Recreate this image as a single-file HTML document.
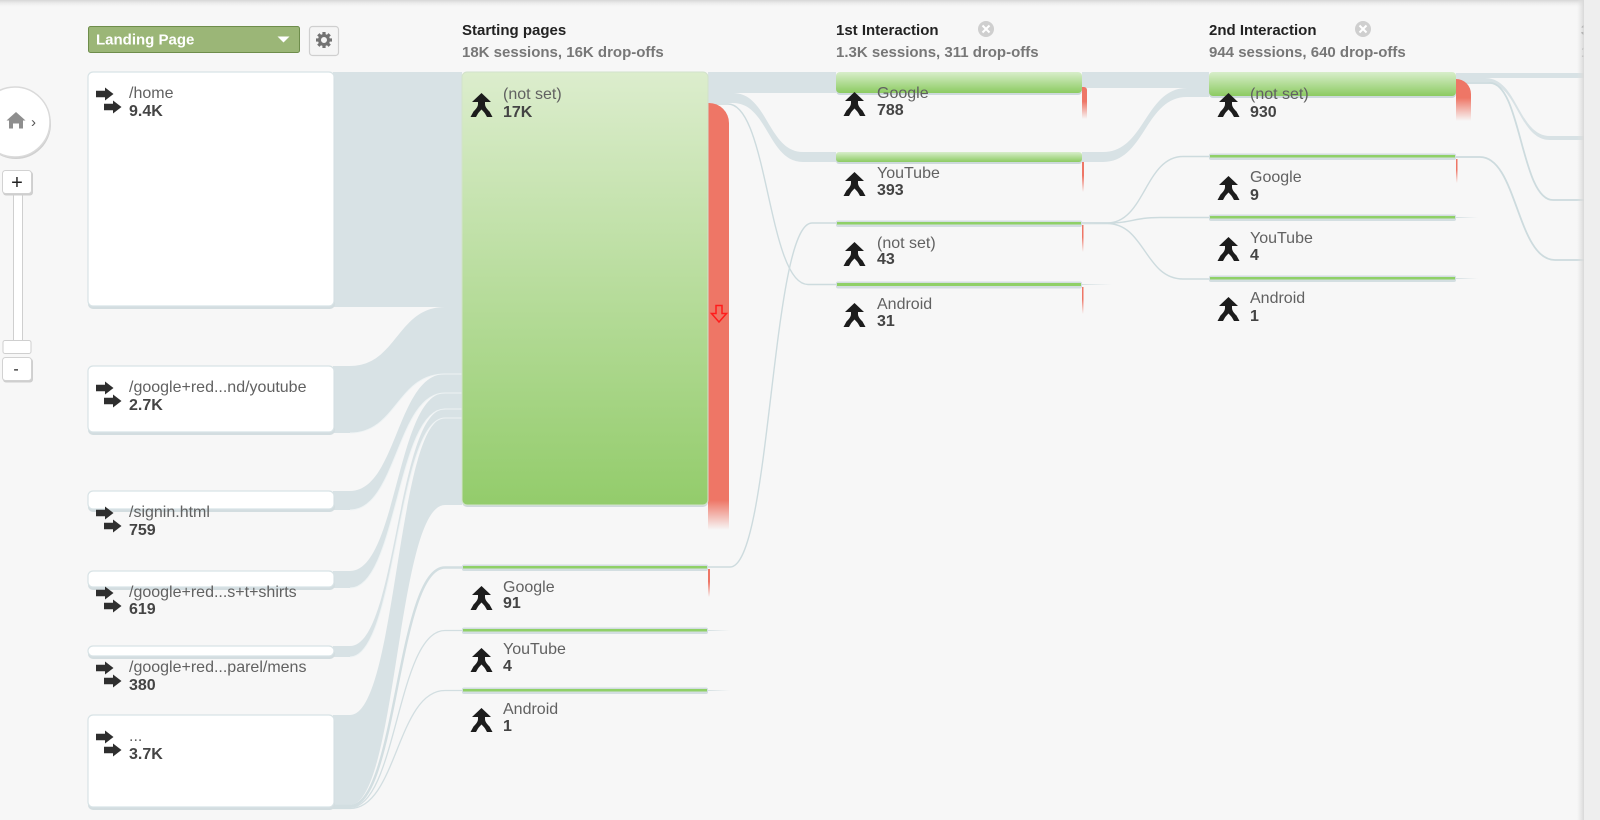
<!DOCTYPE html>
<html><head><meta charset="utf-8"><style>
html,body{margin:0;padding:0;background:#f7f7f7;overflow:hidden;width:1600px;height:820px}
svg{display:block}
.nm{font-size:16px;fill:#616161}
.vl{font-size:16px;font-weight:bold;fill:#444}
.ht{font-size:15px;font-weight:bold;fill:#222}
.hs{font-size:15px;font-weight:bold;fill:#777}
</style></head><body>
<svg width="1600" height="820" viewBox="0 0 1600 820" xmlns="http://www.w3.org/2000/svg" font-family="'Liberation Sans', Arial, sans-serif">
<defs>
 <linearGradient id="gbig" x1="0" y1="0" x2="0" y2="1"><stop offset="0" stop-color="#dcedcd"/><stop offset="1" stop-color="#93cc6b"/></linearGradient>
 <linearGradient id="gbar" x1="0" y1="0" x2="0" y2="1"><stop offset="0" stop-color="#d8eecb"/><stop offset="1" stop-color="#8ccb62"/></linearGradient>
 <linearGradient id="redbig" x1="0" y1="0" x2="0" y2="1"><stop offset="0.93" stop-color="#ee7666"/><stop offset="1" stop-color="#ee7666" stop-opacity="0"/></linearGradient>
 <linearGradient id="rf" x1="0" y1="0" x2="0" y2="1"><stop offset="0.45" stop-color="#ee7666"/><stop offset="1" stop-color="#ee7666" stop-opacity="0"/></linearGradient>
 <linearGradient id="topsh" x1="0" y1="0" x2="0" y2="1"><stop offset="0" stop-color="#d6d6d6"/><stop offset="1" stop-color="#f7f7f7" stop-opacity="0"/></linearGradient>
 <linearGradient id="rsh" x1="0" y1="0" x2="1" y2="0"><stop offset="0" stop-color="#e2e2e2" stop-opacity="0"/><stop offset="1" stop-color="#d8d8d8"/></linearGradient>
 <linearGradient id="tl" x1="0" y1="0" x2="1" y2="0"><stop offset="0" stop-color="#d4dfe2"/><stop offset="1" stop-color="#d4dfe2" stop-opacity="0"/></linearGradient>
 <g id="arr" fill="#2e2e2e">
  <rect x="0" y="18.75" width="10" height="6.5"/><path d="M9 15.5 L17.5 22 L9 28.5 Z"/>
  <rect x="8" y="31.75" width="10" height="6.5"/><path d="M17 28.5 L25.5 35 L17 41.5 Z"/>
 </g>
 <path id="mrg" fill="#1c1c1c" d="M10.5 0 L20 9 L14 9 L14 11 C14 14 16.5 16.5 18.5 18.5 L21.5 24 L16 24 L14 20.5 C13 19 11.5 17.5 10.5 16.5 C9.5 17.5 8 19 7 20.5 L5 24 L-0.5 24 L2.5 18.5 C4.5 16.5 7 14 7 11 L7 9 L1 9 Z"/>
</defs>

<rect x="0" y="0" width="1600" height="820" fill="#f7f7f7"/>

<!-- ===== flows: landing -> start ===== -->
<g fill="#d8e2e5">
 <rect x="333" y="72" width="129" height="235"/>
 <path d="M333 366 L350 366 C397 366 397 307 445 307 L462 307 L462 374 L445 374 C397 374 397 433 350 433 L333 433 Z"/>
 <path d="M333 491 L350 491 C397 491 397 374 445 374 L462 374 L462 393 L445 393 C397 393 397 510 350 510 L333 510 Z"/>
 <path d="M333 571 L350 571 C397 571 397 393 445 393 L462 393 L462 409 L445 409 C397 409 397 588 350 588 L333 588 Z"/>
 <path d="M333 646 L350 646 C397 646 397 409 445 409 L462 409 L462 418 L445 418 C397 418 397 657 350 657 L333 657 Z"/>
 <path d="M333 715 L350 715 C397 715 397 418 445 418 L462 418 L462 505 L445 505 C397 505 397 805 350 805 L333 805 Z"/>
</g>
<g fill="none" stroke="#eef3f4" stroke-width="1">
 <path d="M350 433 C397 433 397 374 445 374 L462 374"/>
 <path d="M350 510 C397 510 397 393 445 393 L462 393"/>
 <path d="M350 588 C397 588 397 409 445 409 L462 409"/>
 <path d="M350 657 C397 657 397 418 445 418 L462 418"/>
</g>
<g fill="none" stroke="#d2dee1">
 <path d="M333 806 L350 806 C397 806 397 567.5 445 567.5 L462 567.5" stroke-width="2.5"/>
 <path d="M333 807.5 L350 807.5 C397 807.5 397 630.5 445 630.5 L462 630.5" stroke-width="1.3"/>
 <path d="M333 808.5 L350 808.5 C397 808.5 397 690.5 445 690.5 L462 690.5" stroke-width="1.3"/>
</g>

<!-- ===== flows: start -> 1st ===== -->
<g fill="#d8e2e5">
 <rect x="708" y="72" width="128" height="21"/>
 <path d="M708 93 L733 93 C768 93 768 152 803 152 L836 152 L836 162 L803 162 C768 162 768 103 733 103 L708 103 Z"/>
</g>
<g fill="none" stroke="#cddbde" stroke-width="1.4">
 <path d="M708 104 L728 104 C768 104 768 284.5 808 284.5 L836 284.5"/>
 <path d="M708 567 L730 567 C771 567 771 223 812 223 L836 223"/>
</g>

<!-- ===== flows: 1st -> 2nd ===== -->
<g fill="#d8e2e5">
 <rect x="1082" y="72" width="127" height="16"/>
 <path d="M1082 152 L1103 152 C1145 152 1145 88 1187 88 L1209 88 L1209 97 L1187 97 C1145 97 1145 162 1103 162 L1082 162 Z"/>
</g>
<g fill="none" stroke="#cddbde" stroke-width="1.4">
 <path d="M1082 223 L1107 223 C1145 223 1145 156.5 1183 156.5 L1209 156.5"/>
 <path d="M1082 223 L1107 223 C1133 223 1133 217.5 1160 217.5 L1209 217.5"/>
 <path d="M1082 223.5 L1107 223.5 C1145 223.5 1145 279 1183 279 L1209 279"/>
</g>

<!-- ===== flows: 2nd -> 3rd ===== -->
<g fill="#d8e2e5">
 <rect x="1456" y="73" width="128" height="5"/>
 <path d="M1456 78 L1485 78 C1518 78 1518 136 1550 136 L1584 136 L1584 140 L1550 140 C1518 140 1518 82 1485 82 L1456 82 Z"/>
</g>
<g fill="none" stroke="#cddbde" stroke-width="1.8">
 <path d="M1456 83 L1490 83 C1521 83 1521 200 1553 200 L1584 200"/>
 <path d="M1456 157 L1480 157 C1517 157 1517 260 1555 260 L1584 260"/>
</g>

<!-- ===== left landing boxes ===== -->
<g>
 <rect x="88" y="74" width="247" height="235" rx="5" fill="#d3dde0"/>
 <rect x="88" y="72" width="246" height="234" rx="5" fill="#fff" stroke="#d8e3e6" stroke-width="1.2"/>
 <rect x="88" y="368" width="247" height="67" rx="5" fill="#d3dde0"/>
 <rect x="88" y="366" width="246" height="66" rx="5" fill="#fff" stroke="#d8e3e6" stroke-width="1.2"/>
 <rect x="88" y="493" width="247" height="19" rx="5" fill="#d3dde0"/>
 <rect x="88" y="491" width="246" height="18" rx="5" fill="#fff" stroke="#d8e3e6" stroke-width="1.2"/>
 <rect x="88" y="573" width="247" height="17" rx="5" fill="#d3dde0"/>
 <rect x="88" y="571" width="246" height="16" rx="5" fill="#fff" stroke="#d8e3e6" stroke-width="1.2"/>
 <rect x="88" y="648" width="247" height="11" rx="5" fill="#d3dde0"/>
 <rect x="88" y="646" width="246" height="10" rx="5" fill="#fff" stroke="#d8e3e6" stroke-width="1.2"/>
 <rect x="88" y="717" width="247" height="93" rx="5" fill="#d3dde0"/>
 <rect x="88" y="715" width="246" height="92" rx="5" fill="#fff" stroke="#d8e3e6" stroke-width="1.2"/>
</g>
<use href="#arr" x="96" y="72"/>
<use href="#arr" x="96" y="366"/>
<use href="#arr" x="96" y="491"/>
<use href="#arr" x="96" y="571"/>
<use href="#arr" x="96" y="646"/>
<use href="#arr" x="96" y="715"/>
<text x="129" y="98" class="nm">/home</text><text x="129" y="116" class="vl">9.4K</text>
<text x="129" y="392" class="nm">/google+red...nd/youtube</text><text x="129" y="410" class="vl">2.7K</text>
<text x="129" y="517" class="nm">/signin.html</text><text x="129" y="535" class="vl">759</text>
<text x="129" y="597" class="nm">/google+red...s+t+shirts</text><text x="129" y="614" class="vl">619</text>
<text x="129" y="672" class="nm">/google+red...parel/mens</text><text x="129" y="690" class="vl">380</text>
<text x="129" y="741" class="nm">...</text><text x="129" y="759" class="vl">3.7K</text>

<!-- ===== start column ===== -->
<path d="M708 103 L709 103 A20 20 0 0 1 729 123 L729 530 L708 530 Z" fill="url(#redbig)"/>
<path d="M716 305.5 L722 305.5 L722 313.5 L726.5 313.5 L719 322 L711.5 313.5 L716 313.5 Z" fill="none" stroke="#ff1c1c" stroke-width="1.5" stroke-linejoin="miter"/>
<rect x="462" y="74" width="246" height="433" rx="5" fill="#cfd9dc"/>
<rect x="462" y="72" width="246" height="433" rx="5" fill="url(#gbig)" stroke="#d2e2cb" stroke-width="1"/>
<rect x="708" y="569" width="2" height="28" fill="url(#rf)"/>
<rect x="462" y="564.5" width="246" height="6.5" rx="2" fill="#d3dee1"/>
<rect x="463" y="566" width="244" height="2.5" fill="#8fd067"/>
<rect x="462" y="627.5" width="246" height="6.5" rx="2" fill="#d3dee1"/>
<rect x="463" y="629" width="244" height="2.5" fill="#8fd067"/>
<rect x="708" y="630" width="22" height="1" fill="url(#tl)"/>
<rect x="462" y="687.5" width="246" height="6.5" rx="2" fill="#d3dee1"/>
<rect x="463" y="689" width="244" height="2.5" fill="#8fd067"/>
<rect x="708" y="690" width="22" height="1" fill="url(#tl)"/>
<use href="#mrg" x="471" y="93"/>
<text x="503" y="99" class="nm">(not set)</text><text x="503" y="117" class="vl">17K</text>
<use href="#mrg" x="471" y="586"/>
<text x="503" y="592" class="nm">Google</text><text x="503" y="608" class="vl">91</text>
<use href="#mrg" x="471" y="648"/>
<text x="503" y="654" class="nm">YouTube</text><text x="503" y="671" class="vl">4</text>
<use href="#mrg" x="471" y="708"/>
<text x="503" y="714" class="nm">Android</text><text x="503" y="731" class="vl">1</text>

<!-- ===== 1st interaction column ===== -->
<path d="M1082 87 L1084 87 A3 3 0 0 1 1087 90 L1087 119 L1082 119 Z" fill="url(#rf)"/>
<rect x="1082" y="162" width="2" height="30" fill="url(#rf)"/>
<rect x="1082" y="225" width="1.5" height="27" fill="url(#rf)"/>
<rect x="1082" y="287" width="1.5" height="27" fill="url(#rf)"/>
<rect x="836" y="74" width="246" height="21" rx="4" fill="#cdd9dc"/>
<rect x="836" y="72" width="246" height="21" rx="4" fill="url(#gbar)"/>
<rect x="836" y="154" width="246" height="10" rx="3" fill="#cdd9dc"/>
<rect x="836" y="152" width="246" height="10" rx="3" fill="url(#gbar)"/>
<rect x="836" y="220.5" width="246" height="6.5" rx="2" fill="#d3dee1"/>
<rect x="837" y="222" width="244" height="2.5" fill="#8fd067"/>
<rect x="1082" y="223" width="30" height="1" fill="url(#tl)"/>
<rect x="836" y="281.5" width="246" height="7" rx="2" fill="#d3dee1"/>
<rect x="837" y="283" width="244" height="3" fill="#8fd067"/>
<rect x="1082" y="284" width="30" height="1" fill="url(#tl)"/>
<use href="#mrg" x="844" y="92"/>
<text x="877" y="98" class="nm">Google</text><text x="877" y="115" class="vl">788</text>
<use href="#mrg" x="844" y="172"/>
<text x="877" y="178" class="nm">YouTube</text><text x="877" y="195" class="vl">393</text>
<use href="#mrg" x="844" y="242"/>
<text x="877" y="248" class="nm">(not set)</text><text x="877" y="264" class="vl">43</text>
<use href="#mrg" x="844" y="303"/>
<text x="877" y="309" class="nm">Android</text><text x="877" y="326" class="vl">31</text>

<!-- ===== 2nd interaction column ===== -->
<path d="M1456 79 A15 15 0 0 1 1471 94 L1471 121 L1456 121 Z" fill="url(#rf)"/>
<rect x="1456" y="159" width="1.5" height="24" fill="url(#rf)"/>
<rect x="1209" y="74" width="247" height="24" rx="4" fill="#cdd9dc"/>
<rect x="1209" y="72" width="247" height="24" rx="4" fill="url(#gbar)"/>
<rect x="1209" y="153.5" width="247" height="6.5" rx="2" fill="#d3dee1"/>
<rect x="1210" y="155" width="245" height="2.5" fill="#8fd067"/>
<rect x="1209" y="214.5" width="247" height="6.5" rx="2" fill="#d3dee1"/>
<rect x="1210" y="216" width="245" height="2.5" fill="#8fd067"/>
<rect x="1456" y="217" width="22" height="1" fill="url(#tl)"/>
<rect x="1209" y="275.5" width="247" height="6.5" rx="2" fill="#d3dee1"/>
<rect x="1210" y="277" width="245" height="2.5" fill="#8fd067"/>
<rect x="1456" y="278" width="22" height="1" fill="url(#tl)"/>
<use href="#mrg" x="1218" y="93"/>
<text x="1250" y="99" class="nm">(not set)</text><text x="1250" y="117" class="vl">930</text>
<use href="#mrg" x="1218" y="176"/>
<text x="1250" y="182" class="nm">Google</text><text x="1250" y="200" class="vl">9</text>
<use href="#mrg" x="1218" y="237"/>
<text x="1250" y="243" class="nm">YouTube</text><text x="1250" y="260" class="vl">4</text>
<use href="#mrg" x="1218" y="297"/>
<text x="1250" y="303" class="nm">Android</text><text x="1250" y="321" class="vl">1</text>

<!-- ===== headers ===== -->
<text x="462" y="35" class="ht">Starting pages</text>
<text x="462" y="57" class="hs">18K sessions, 16K drop-offs</text>
<text x="836" y="35" class="ht">1st Interaction</text>
<text x="836" y="57" class="hs">1.3K sessions, 311 drop-offs</text>
<circle cx="986" cy="29" r="8" fill="#cfcfcf"/>
<path d="M982.5 25.5 L989.5 32.5 M989.5 25.5 L982.5 32.5" stroke="#fff" stroke-width="2"/>
<text x="1209" y="35" class="ht">2nd Interaction</text>
<text x="1209" y="57" class="hs">944 sessions, 640 drop-offs</text>
<circle cx="1363" cy="29" r="8" fill="#cfcfcf"/>
<path d="M1359.5 25.5 L1366.5 32.5 M1366.5 25.5 L1359.5 32.5" stroke="#fff" stroke-width="2"/>
<text x="1581" y="35" class="ht">3rd Interaction</text>
<text x="1581" y="57" class="hs">1 sessions</text>

<!-- ===== landing page button & gear ===== -->
<rect x="88.5" y="26.5" width="211" height="26" rx="2" fill="#9bb677" stroke="#6e8d4b" stroke-width="1"/>
<text x="96" y="44.5" font-size="15" font-weight="bold" fill="#fff">Landing Page</text>
<path d="M277.5 36.5 L289.5 36.5 L283.5 42.5 Z" fill="#fff"/>
<rect x="309.5" y="26.5" width="29" height="29" rx="3" fill="#f5f5f5" stroke="#cfcfcf" stroke-width="1.2"/>
<g transform="translate(324,40)" stroke="#737373" stroke-width="3" fill="none">
 <circle r="4.5"/>
 <g stroke-width="3.2">
  <line x1="0" y1="-5" x2="0" y2="-8"/><line x1="0" y1="5" x2="0" y2="8"/>
  <line x1="-5" y1="0" x2="-8" y2="0"/><line x1="5" y1="0" x2="8" y2="0"/>
  <line x1="3.6" y1="3.6" x2="5.7" y2="5.7"/><line x1="-3.6" y1="-3.6" x2="-5.7" y2="-5.7"/>
  <line x1="3.6" y1="-3.6" x2="5.7" y2="-5.7"/><line x1="-3.6" y1="3.6" x2="-5.7" y2="5.7"/>
 </g>
</g>

<!-- ===== home circle & zoom slider ===== -->
<circle cx="16" cy="124" r="35" fill="#d0d0d0"/>
<circle cx="15" cy="122" r="35" fill="#fff" stroke="#dadada" stroke-width="1.5"/>
<path d="M6.5 120.5 L16 112 L25.5 120.5 L23 120.5 L23 128.5 L19 128.5 L19 123.5 L13 123.5 L13 128.5 L9 128.5 L9 120.5 Z" fill="#8e8e8e"/>
<text x="31" y="127" font-size="15" fill="#555">›</text>

<rect x="13.5" y="192" width="9" height="150" fill="#fff" stroke="#cfcfcf" stroke-width="1"/>
<rect x="3" y="171.5" width="30" height="24" rx="3" fill="#cfcfcf"/>
<rect x="2.5" y="170.5" width="29" height="23" rx="3" fill="#fff" stroke="#d2d2d2" stroke-width="1"/>
<text x="17" y="189" font-size="20" fill="#222" text-anchor="middle">+</text>
<rect x="3" y="340.5" width="28" height="13" rx="2" fill="#fff" stroke="#cfcfcf" stroke-width="1"/>
<rect x="3" y="358.5" width="30" height="24" rx="3" fill="#cfcfcf"/>
<rect x="2.5" y="357.5" width="29" height="23" rx="3" fill="#fff" stroke="#d2d2d2" stroke-width="1"/>
<text x="16" y="374" font-size="16" fill="#222" text-anchor="middle">-</text>

<!-- ===== top shadow & right panel ===== -->
<rect x="0" y="0" width="1600" height="8" fill="url(#topsh)"/>
<rect x="1577" y="0" width="7" height="820" fill="url(#rsh)"/>
<rect x="1584" y="0" width="16" height="820" fill="#eeeeee"/>
</svg>
</body></html>
